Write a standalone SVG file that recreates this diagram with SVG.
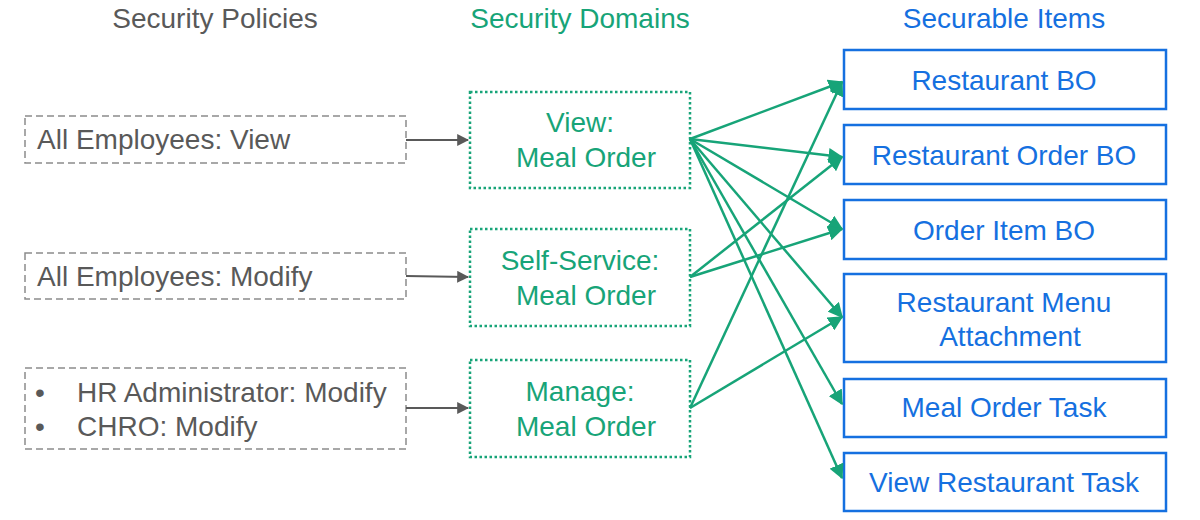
<svg xmlns="http://www.w3.org/2000/svg" width="1200" height="520" viewBox="0 0 1200 520">
<style>
text{font-family:"Liberation Sans",Arial,sans-serif;font-size:28px}
.p{fill:none;stroke:#8c8c8c;stroke-width:1.5;stroke-dasharray:7 4}
.pt{fill:#595959}
.d{fill:none;stroke:#17a478;stroke-width:2.5;stroke-dasharray:2.5 2.5}
.dt{fill:#17a478}
.s{fill:none;stroke:#1570e0;stroke-width:2.5}
.st{fill:#1570e0}
.g{stroke:#17a478;stroke-width:2.5;fill:none}
.k{stroke:#595959;stroke-width:2;fill:none}
</style>
<defs>
<marker id="ag" viewBox="0 0 10 10" refX="9" refY="5" markerWidth="6" markerHeight="6" orient="auto" markerUnits="strokeWidth"><path d="M0,0L10,5L0,10z" fill="#17a478"/></marker>
<marker id="ak" viewBox="0 0 10 10" refX="9" refY="5" markerWidth="6" markerHeight="6" orient="auto" markerUnits="strokeWidth"><path d="M0,0L10,5L0,10z" fill="#595959"/></marker>
</defs>
<text class="pt" x="215" y="28" text-anchor="middle">Security Policies</text>
<text class="dt" x="580" y="28" text-anchor="middle">Security Domains</text>
<text class="st" x="1004" y="28" text-anchor="middle">Securable Items</text>
<g id="p1"><rect class="p" x="25" y="116" width="381" height="47"/><text class="pt" x="37" y="149">All Employees: View</text></g>
<g id="p2"><rect class="p" x="25" y="253" width="381" height="46"/><text class="pt" x="37" y="286">All Employees: Modify</text></g>
<g id="p3"><rect class="p" x="25" y="368" width="381" height="81"/><text class="pt" x="35" y="402">•</text><text class="pt" x="77" y="402">HR Administrator: Modify</text><text class="pt" x="35" y="436">•</text><text class="pt" x="77" y="436">CHRO: Modify</text></g>
<g id="d1"><rect class="d" x="470" y="92" width="220" height="96"/><text class="dt" x="580" y="132" text-anchor="middle">View:</text><text class="dt" x="586" y="167" text-anchor="middle">Meal Order</text></g>
<g id="d2"><rect class="d" x="470" y="229" width="220" height="97"/><text class="dt" x="580" y="270" text-anchor="middle">Self-Service:</text><text class="dt" x="586" y="305" text-anchor="middle">Meal Order</text></g>
<g id="d3"><rect class="d" x="470" y="360" width="220" height="97"/><text class="dt" x="580" y="401" text-anchor="middle">Manage:</text><text class="dt" x="586" y="436" text-anchor="middle">Meal Order</text></g>
<g id="i1"><rect class="s" x="844" y="50" width="322" height="59"/><text class="st" x="1004" y="90" text-anchor="middle">Restaurant BO</text></g>
<g id="i2"><rect class="s" x="844" y="125" width="322" height="59"/><text class="st" x="1004" y="165" text-anchor="middle">Restaurant Order BO</text></g>
<g id="i3"><rect class="s" x="844" y="200" width="322" height="59"/><text class="st" x="1004" y="240" text-anchor="middle">Order Item BO</text></g>
<g id="i4"><rect class="s" x="844" y="274" width="322" height="88"/><text class="st" x="1004" y="312" text-anchor="middle">Restaurant Menu</text><text class="st" x="1010" y="346" text-anchor="middle">Attachment</text></g>
<g id="i5"><rect class="s" x="844" y="379" width="322" height="58"/><text class="st" x="1004" y="417" text-anchor="middle">Meal Order Task</text></g>
<g id="i6"><rect class="s" x="844" y="453" width="322" height="58"/><text class="st" x="1004" y="492" text-anchor="middle">View Restaurant Task</text></g>
<g id="connectors">
<line class="k" x1="406" y1="140" x2="468" y2="140" marker-end="url(#ak)"/>
<line class="k" x1="406" y1="276" x2="468" y2="277" marker-end="url(#ak)"/>
<line class="k" x1="406" y1="408" x2="468" y2="408" marker-end="url(#ak)"/>
<g class="g" marker-end="url(#ag)">
<line x1="690" y1="139" x2="842" y2="82"/>
<line x1="690" y1="139" x2="842" y2="157"/>
<line x1="690" y1="139" x2="842" y2="229"/>
<line x1="690" y1="139" x2="842" y2="317"/>
<line x1="690" y1="139" x2="842" y2="404"/>
<line x1="690" y1="139" x2="842" y2="478"/>
<line x1="690" y1="277" x2="842" y2="157"/>
<line x1="690" y1="277" x2="842" y2="229"/>
<line x1="690" y1="408" x2="842" y2="82"/>
<line x1="690" y1="408" x2="842" y2="317"/>
</g>
</g>
</svg>
